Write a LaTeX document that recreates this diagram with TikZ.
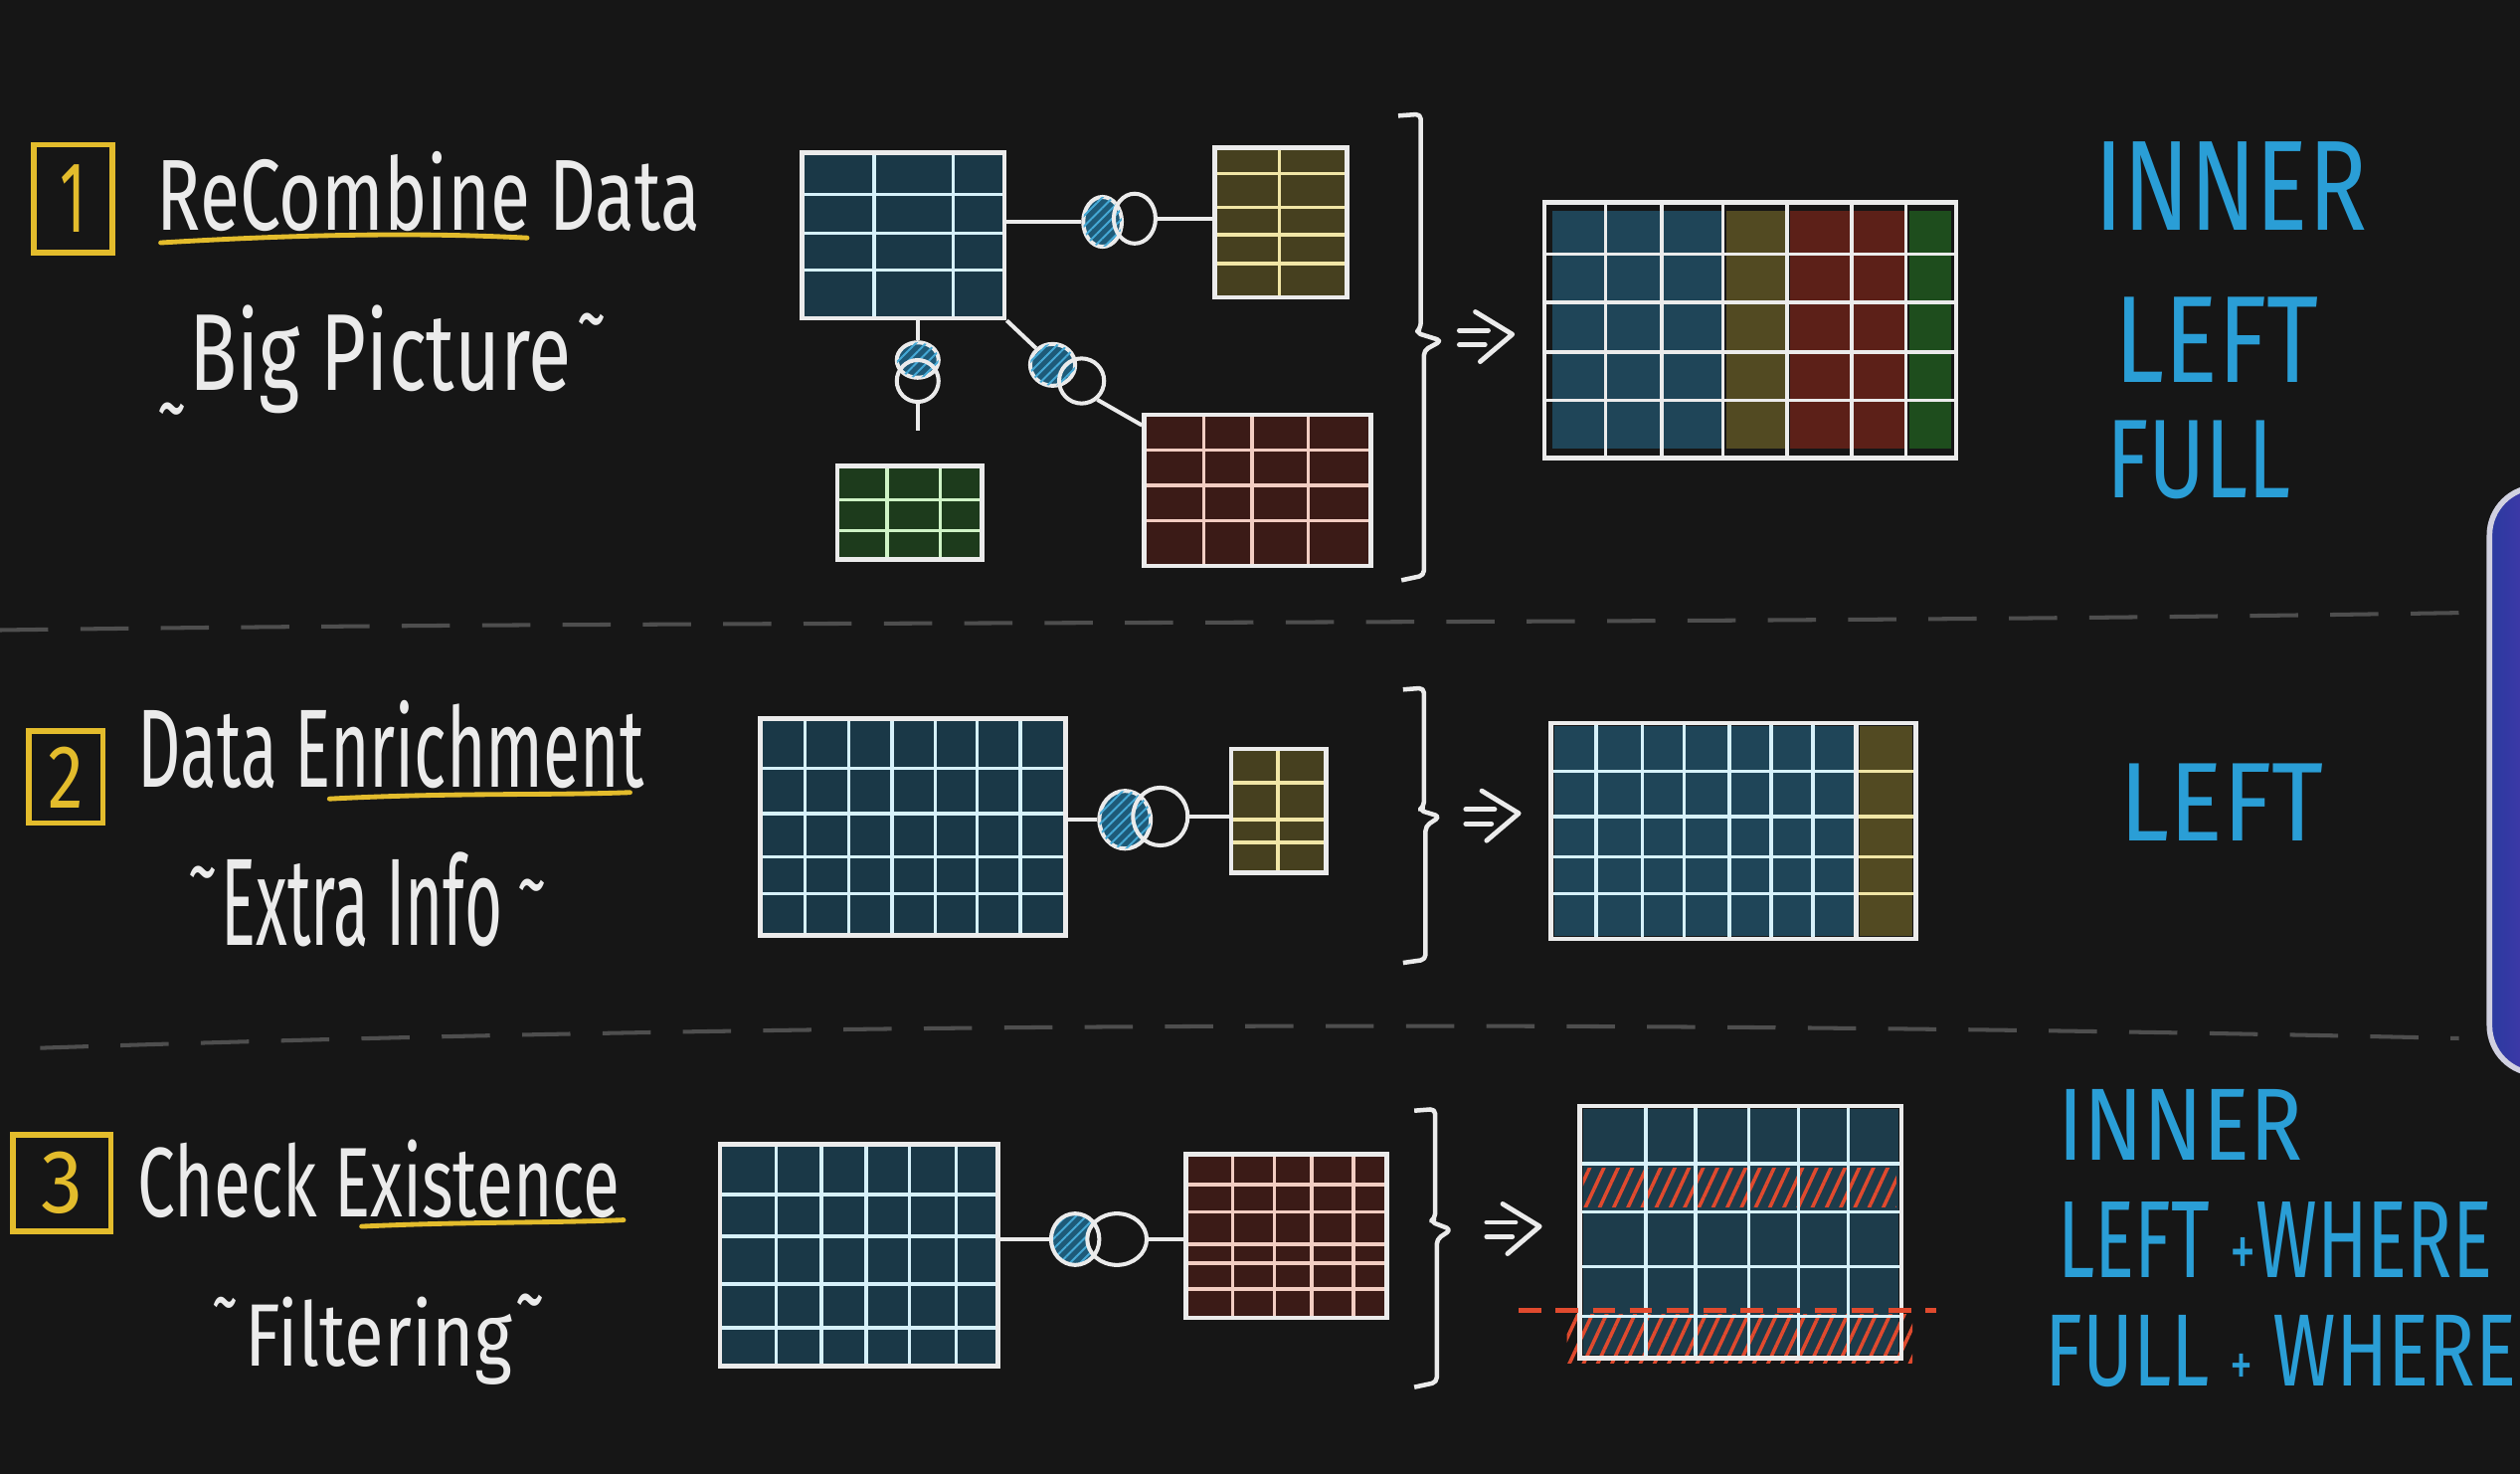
\documentclass[tikz,border=0pt]{standalone}
\usepackage{fontspec}
\usepackage{graphicx}
\setmainfont{Fira Sans}
\usetikzlibrary{fit,shapes.geometric,patterns.meta}
\definecolor{bg}{HTML}{161616}
\definecolor{wht}{HTML}{EBEBEB}
\definecolor{ylw}{HTML}{E3BC2C}
\definecolor{lblue}{HTML}{2A9ED6}
\definecolor{sepc}{HTML}{4E4E4E}
\definecolor{tb}{HTML}{1A3847}
\definecolor{ty}{HTML}{46401F}
\definecolor{tr}{HTML}{3B1B17}
\definecolor{tg}{HTML}{1D3B1C}
\definecolor{lnb}{HTML}{D6F1FA}
\definecolor{lny}{HTML}{F1E6A6}
\definecolor{lnr}{HTML}{F2CDC2}
\definecolor{lng}{HTML}{CFF3C6}
\definecolor{rb}{HTML}{1F4558}
\definecolor{ry}{HTML}{524A22}
\definecolor{rr}{HTML}{5C2018}
\definecolor{rg}{HTML}{1E4D1D}
\definecolor{vfill}{HTML}{1E5A78}
\definecolor{vhatch}{HTML}{45A9D6}
\definecolor{redh}{HTML}{E04A2E}
\definecolor{camb}{HTML}{D0D0E0}
\definecolor{camA}{HTML}{2A3AA0}
\definecolor{camB}{HTML}{6A36B8}
\newcommand\fitbox[3]{\resizebox{#1mm}{#2mm}{#3}}
\newcommand\gridtab[9]{%
  \fill[#6] (#2,#3) rectangle (#4,#5);
  \foreach \gx in {#8} \draw[gl,#7] (\gx,#3) -- (\gx,#5);
  \foreach \gy in {#9} \draw[gl,#7] (#2,\gy) -- (#4,\gy);
  \node[tbl, fit={(#2,#3) (#4,#5)}] (#1) {};
}
\tikzset{
  tbl/.style={draw=wht, line width=0.28mm, inner sep=0pt},
  gl/.style={line width=0.22mm},
  vn/.style={ellipse, draw=wht, line width=0.25mm, inner sep=0pt},
  vnfill/.style={fill=vfill, postaction={pattern={Lines[angle=45,distance=0.45mm,line width=0.12mm]}, pattern color=vhatch}},
  con/.style={draw=wht, line width=0.25mm},
  brk/.style={draw=wht, line width=0.28mm, line join=round, rounded corners=0.3mm},
  ybox/.style={draw=ylw, line width=0.35mm, inner sep=0pt, text=ylw},
  sepline/.style={draw=sepc, line width=0.25mm, dash pattern=on 3mm off 2mm},
  ul/.style={draw=ylw, line width=0.3mm, line cap=round},
  lbl/.style={text=lblue, inner sep=0pt, anchor=base west},
  hw/.style={text=wht, inner sep=0pt, anchor=base west},
  tld/.style={text=wht, inner sep=0pt, anchor=north},
  arr/.style={draw=wht, line width=0.3mm, line cap=round, line join=round},
  dblarr/.pic={
    \draw[arr] (0,-4.5) -- (18,-4.5);
    \draw[arr] (0,4.5) -- (16,4.5);
    \draw[arr] (10,-16) -- (33,-2) -- (13,15);
  }
}
\begin{document}
\begin{tikzpicture}[x=0.1mm,y=-0.1mm]
\useasboundingbox (0,0) rectangle (1568,917);
\clip (0,0) rectangle (1568,917);
\fill[bg] (0,0) rectangle (1568,917);

% separators
\draw[sepline] (0,392) .. controls (500,385) and (1000,390) .. (1545,381);
\draw[sepline] (25,652) .. controls (500,636) and (1000,634) .. (1530,646);

% webcam overlay at right edge
\draw[line width=0.35mm, draw=camb, left color=camA, right color=camB, rounded corners=3mm] (1549,303) rectangle (1620,668);

% ================= Section 1 =================
\node[ybox, minimum width=4.9mm, minimum height=6.7mm] (n1) at (45.5,123.5) {\fitbox{1.6}{4.2}{1}};
\node[hw] (h1) at (97,143) {\fitbox{33.8}{4.9}{ReCombine Data}};
\draw[ul] (100,151) .. controls (200,145) and (270,145) .. (328,148);
\node[hw] (s1) at (117,243) {\fitbox{23.8}{5.3}{Big Picture}};
\node[tld] (s1l) at (107,250) {\fitbox{1.8}{2.2}{\textasciitilde}};
\node[tld] (s1r) at (368,194) {\fitbox{1.8}{2.2}{\textasciitilde}};

\gridtab{t1a}{499}{95}{625}{198}{tb}{lnb}{544,593}{121,145,168}
\gridtab{t1b}{756}{92}{838}{185}{ty}{lny}{796}{108,129,146,164}
\gridtab{t1c}{521}{290}{611}{348}{tg}{lng}{552,585}{311,330}
\gridtab{t1d}{712}{258}{853}{352}{tr}{lnr}{749,779,814}{280,302,324}

\node[vn, vnfill, minimum width=2.4mm, minimum height=3.1mm] (v1a) at (686,138) {};
\node[vn, minimum width=2.6mm, minimum height=3.1mm] (v1b) at (706,136) {};
\draw[con] (t1a.east |- v1a.west) -- (v1a.west);
\draw[con] (v1b.east) -- (t1b.west |- v1b.east);

\node[vn, vnfill, minimum width=2.6mm, minimum height=2.2mm] (v2a) at (571,224) {};
\node[vn, minimum width=2.6mm, minimum height=2.6mm] (v2b) at (571,237) {};
\coordinate (v2end) at (571,268);
\draw[con] (t1a.south -| v2a.north) -- (v2a.north);
\draw[con] (v2b.south) -- (v2end);

\node[vn, vnfill, minimum width=2.8mm, minimum height=2.6mm] (v3a) at (655,227) {};
\node[vn, minimum width=2.8mm, minimum height=2.8mm] (v3b) at (673,237) {};
\draw[con] (t1a.south east) -- (v3a.135);
\draw[con] (v3b.-50) -- ([yshift=-0.8mm]t1d.north west);

\draw[brk] (870,72) -- (884,71) -- (884,204) -- (881,207) -- (897,212) -- (886,218) -- (886,358) -- (872,361);
\pic (a1) at (908,210) {dblarr};

% result 1
\fill[rb] (966,131) rectangle (1071,279);
\fill[ry] (1074,131) rectangle (1111,279);
\fill[rr] (1114,131) rectangle (1185,279);
\fill[rg] (1188,131) rectangle (1214,279);
\foreach \gx in {999,1034,1072,1112,1152,1186} \draw[gl,wht] (\gx,126) -- (\gx,285);
\foreach \gy in {158,188,219,249} \draw[gl,wht] (961,\gy) -- (1217,\gy);
\node[tbl, fit={(961,126) (1217,285)}] (r1) {};

\node[lbl] (l1a) at (1303,143) {\fitbox{16.9}{5.5}{INNER}};
\node[lbl] (l1b) at (1315,238) {\fitbox{12.7}{5.3}{LEFT}};
\node[lbl] (l1c) at (1310,310) {\fitbox{11.5}{4.8}{FULL}};

% ================= Section 2 =================
\node[ybox, minimum width=4.6mm, minimum height=5.7mm] (n2) at (41,483.5) {\fitbox{2.2}{3.8}{2}};
\node[hw] (h2) at (85,490) {\fitbox{31.5}{5.4}{Data Enrichment}};
\draw[ul] (205,497) .. controls (280,493) and (340,495) .. (392,493);
\node[hw] (s2) at (137,588) {\fitbox{17.5}{5.8}{Extra Info}};
\node[tld] (s2l) at (126,538) {\fitbox{1.8}{2.2}{\textasciitilde}};
\node[tld] (s2r) at (331,546) {\fitbox{1.8}{2.2}{\textasciitilde}};

\gridtab{t2a}{473}{447}{663}{582}{tb}{lnb}{501,528,555,582,608,635}{478,506,533,556}
\gridtab{t2b}{766}{466}{825}{543}{ty}{lny}{795}{487,510,524}

\node[vn, vnfill, minimum width=3.2mm, minimum height=3.6mm] (v4a) at (700,510) {};
\node[vn, minimum width=3.4mm, minimum height=3.6mm] (v4b) at (722,508) {};
\draw[con] (t2a.east |- v4a.west) -- (v4a.west);
\draw[con] (v4b.east) -- (t2b.west |- v4b.east);

\draw[brk] (873,429) -- (886,428) -- (886,502) -- (883,504) -- (896,508) -- (887,514) -- (887,597) -- (873,599);
\pic (a2) at (912,508) {dblarr};

% result 2
\fill[rb] (967,452) rectangle (1154,582);
\fill[ry] (1157,452) rectangle (1190,582);
\foreach \gx in {993,1022,1048,1076,1102,1128} \draw[gl,lnb] (\gx,450) -- (\gx,584);
\foreach \gy in {480,508,533,556} {\draw[gl,lnb] (965,\gy) -- (1155,\gy); \draw[gl,lny] (1155,\gy) -- (1192,\gy);}
\draw[tbl] (1155,450) -- (1155,584);
\node[tbl, fit={(965,450) (1192,584)}] (r2) {};

\node[lbl] (l2a) at (1318,523) {\fitbox{12.7}{4.8}{LEFT}};

% ================= Section 3 =================
\node[ybox, minimum width=6.1mm, minimum height=6.0mm] (n3) at (38.5,736) {\fitbox{2.6}{3.8}{3}};
\node[hw] (h3) at (85,757) {\fitbox{30.0}{4.8}{Check Existence}};
\draw[ul] (225,763) .. controls (290,760) and (340,761) .. (388,759);
\node[hw] (s3) at (152,850) {\fitbox{16.6}{4.3}{Filtering}};
\node[tld] (s3l) at (140,806) {\fitbox{1.6}{2.0}{\textasciitilde}};
\node[tld] (s3r) at (330,804) {\fitbox{1.8}{2.2}{\textasciitilde}};

\gridtab{t3a}{448}{712}{621}{850}{tb}{lnb}{483,511,539,566,595}{743,769,799,826}
\gridtab{t3b}{738}{718}{863}{820}{tr}{lnr}{767,793,816,842}{737,754,774,786,802}

\begin{scope}
  \clip (669,771) ellipse [x radius=1.5mm, y radius=1.6mm];
  \fill[vfill, even odd rule] (669,771) ellipse [x radius=1.5mm, y radius=1.6mm] (695,771) ellipse [x radius=1.85mm, y radius=1.6mm];
  \fill[even odd rule, pattern={Lines[angle=45,distance=0.45mm,line width=0.12mm]}, pattern color=vhatch] (669,771) ellipse [x radius=1.5mm, y radius=1.6mm] (695,771) ellipse [x radius=1.85mm, y radius=1.6mm];
\end{scope}
\node[vn, minimum width=3.0mm, minimum height=3.2mm] (v5a) at (669,771) {};
\node[vn, minimum width=3.7mm, minimum height=3.2mm] (v5b) at (695,771) {};
\draw[con] (t3a.east |- v5a.west) -- (v5a.west);
\draw[con] (v5b.east) -- (t3b.west |- v5b.east);

\draw[brk] (880,691) -- (893,690) -- (893,758) -- (890,760) -- (903,765) -- (894,771) -- (894,860) -- (880,863);
\pic (a3) at (925,765) {dblarr};

% result 3
\fill[rb!80!bg] (985,690) rectangle (1181,843);
\fill[pattern={Lines[angle=65,distance=0.8mm,line width=0.22mm]}, pattern color=redh] (985,727) rectangle (1180,751);
\fill[pattern={Lines[angle=65,distance=0.8mm,line width=0.22mm]}, pattern color=redh] (975,818) rectangle (1190,848);
\foreach \gx in {1024,1055,1088,1119,1150} \draw[gl,lnb] (\gx,688) -- (\gx,845);
\foreach \gy in {724,754,788,819} \draw[gl,lnb] (983,\gy) -- (1183,\gy);
\node[tbl, fit={(983,688) (1183,845)}] (r3) {};
\draw[redh, line width=0.3mm, dash pattern=on 1.4mm off 0.9mm] (945,815) -- (1205,815);

\node[lbl] (l3a) at (1280,722) {\fitbox{15.2}{4.4}{INNER}};
\node[lbl] (l3b) at (1280,795) {\fitbox{27.0}{4.7}{LEFT {\scalebox{0.7}{+}}WHERE}};
\node[lbl] (l3c) at (1272,862) {\fitbox{29.3}{4.4}{FULL {\scalebox{0.6}{+}} WHERE}};
\end{tikzpicture}
\end{document}
